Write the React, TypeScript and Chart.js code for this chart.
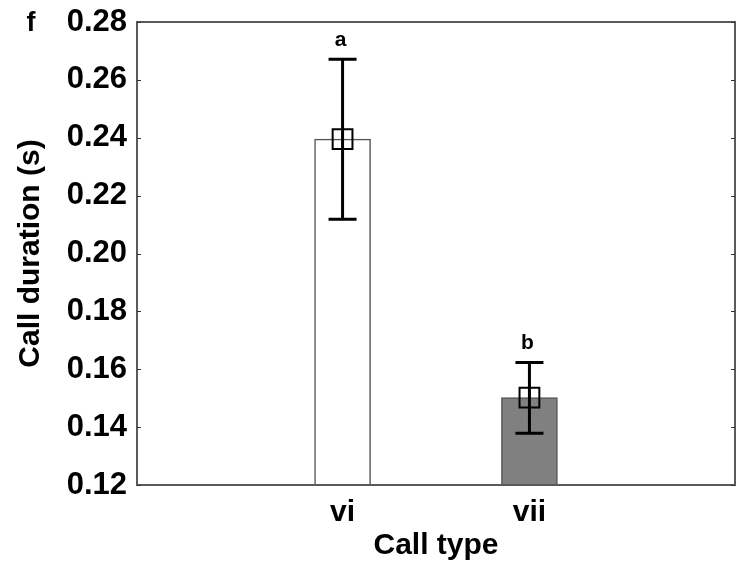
import React, { useEffect, useRef } from "react";
import { Chart, registerables } from "chart.js";

Chart.register(...registerables);

const categories = ["vi", "vii"];
const categoryPositions = [1, 2];
const means = [0.2395, 0.1502];
const errLow = [0.2118, 0.1379];
const errHigh = [0.2671, 0.1623];
const letters = ["a", "b"];
const barColors = ["#ffffff", "#808080"];
const yTicks = [0.12, 0.14, 0.16, 0.18, 0.2, 0.22, 0.24, 0.26, 0.28];

const FONT = "'Liberation Sans', Arial, sans-serif";

const overlayPlugin = {
  id: "overlay",
  afterDatasetsDraw(chart: any) {
    const { ctx, scales } = chart;
    const xs = scales.x;
    const ys = scales.y;
    ctx.save();
    ctx.strokeStyle = "#000";
    ctx.lineWidth = 3;
    categoryPositions.forEach((p, i) => {
      const x = xs.getPixelForValue(p);
      const yl = ys.getPixelForValue(errLow[i]);
      const yh = ys.getPixelForValue(errHigh[i]);
      ctx.beginPath();
      ctx.moveTo(x, yl);
      ctx.lineTo(x, yh);
      ctx.moveTo(x - 14, yl);
      ctx.lineTo(x + 14, yl);
      ctx.moveTo(x - 14, yh);
      ctx.lineTo(x + 14, yh);
      ctx.stroke();
      ctx.fillStyle = "#000";
      ctx.font = `bold 21px ${FONT}`;
      ctx.textAlign = "center";
      ctx.textBaseline = "bottom";
      ctx.fillText(letters[i], x - 2, yh - 9);
    });
    ctx.restore();
  },
  afterDraw(chart: any) {
    const { ctx, chartArea, scales } = chart;
    const ys = scales.y;
    ctx.save();
    ctx.strokeStyle = "#5a5a5a";
    ctx.lineWidth = 2;
    ctx.strokeRect(chartArea.left, chartArea.top, chartArea.right - chartArea.left, chartArea.bottom - chartArea.top);
    ctx.lineWidth = 1;
    ctx.strokeStyle = "#333";
    yTicks.forEach((v) => {
      const y = Math.round(ys.getPixelForValue(v)) + 0.5;
      ctx.beginPath();
      ctx.moveTo(chartArea.left, y);
      ctx.lineTo(chartArea.left + 4, y);
      ctx.moveTo(chartArea.right - 4, y);
      ctx.lineTo(chartArea.right, y);
      ctx.stroke();
    });
    ctx.fillStyle = "#000";
    ctx.font = `bold 27px ${FONT}`;
    ctx.textAlign = "center";
    ctx.textBaseline = "middle";
    ctx.fillText("f", 31, 24);
    ctx.restore();
  },
};

export default function App() {
  const ref = useRef<HTMLCanvasElement>(null);
  useEffect(() => {
    if (!ref.current) return;
    const chart = new Chart(ref.current, {
      type: "bar",
      data: {
        datasets: [
          {
            type: "bar",
            data: categoryPositions.map((p, i) => ({ x: p, y: means[i] })),
            backgroundColor: barColors,
            borderColor: "#555",
            borderWidth: 1.5,
            borderSkipped: "bottom",
            barThickness: 56,
            order: 2,
          } as any,
          {
            type: "scatter",
            data: categoryPositions.map((p, i) => ({ x: p, y: means[i] })),
            pointStyle: "rect",
            pointRadius: 14,
            pointBorderWidth: 2,
            pointBorderColor: "#000",
            pointBackgroundColor: "rgba(0,0,0,0)",
            order: 1,
          } as any,
        ],
      },
      options: {
        animation: false,
        responsive: false,
        maintainAspectRatio: false,
        devicePixelRatio: 1,
        layout: { autoPadding: false, padding: { left: 0, top: 22, right: 6, bottom: 0 } },
        plugins: { legend: { display: false }, tooltip: { enabled: false } },
        scales: {
          x: {
            type: "linear",
            offset: false,
            min: -0.1,
            max: 3.1,
            grid: { display: false, drawTicks: false, offset: false },
            border: { display: false },
            afterBuildTicks: (axis: any) => {
              axis.ticks = categoryPositions.map((v) => ({ value: v }));
            },
            afterFit: (scale: any) => {
              scale.height = 81;
              scale.paddingLeft = 0;
              scale.paddingRight = 0;
            },
            ticks: {
              padding: 10,
              color: "#000",
              font: { family: FONT, size: 30, weight: "bold" },
              callback: (v: any) => {
                const i = categoryPositions.indexOf(Number(v));
                return i >= 0 ? categories[i] : "";
              },
              maxRotation: 0,
            },
            title: {
              display: true,
              text: "Call type",
              color: "#000",
              font: { family: FONT, size: 30, weight: "bold" },
              padding: { top: 0, bottom: 2 },
            },
          },
          y: {
            min: 0.12,
            max: 0.28,
            grid: { display: false, drawTicks: false },
            border: { display: false },
            afterBuildTicks: (axis: any) => {
              axis.ticks = yTicks.map((v) => ({ value: v }));
            },
            afterFit: (scale: any) => {
              scale.width = 137;
              scale.paddingTop = 0;
              scale.paddingBottom = 0;
            },
            ticks: {
              padding: 10,
              color: "#000",
              font: { family: FONT, size: 31, weight: "bold", lineHeight: 1 },
              callback: (v: any) => Number(v).toFixed(2),
            },
            title: {
              display: true,
              text: "Call duration (s)",
              color: "#000",
              font: { family: FONT, size: 30, weight: "bold" },
              padding: { top: 13, bottom: 0 },
            },
          },
        },
      },
      plugins: [overlayPlugin],
    } as any);
    return () => chart.destroy();
  }, []);
  return (
    <div style={{ position: "absolute", left: 0, top: 0, width: 741, height: 566, background: "#fff" }}>
      <canvas ref={ref} width={741} height={566} style={{ display: "block", width: 741, height: 566 }} />
    </div>
  );
}
